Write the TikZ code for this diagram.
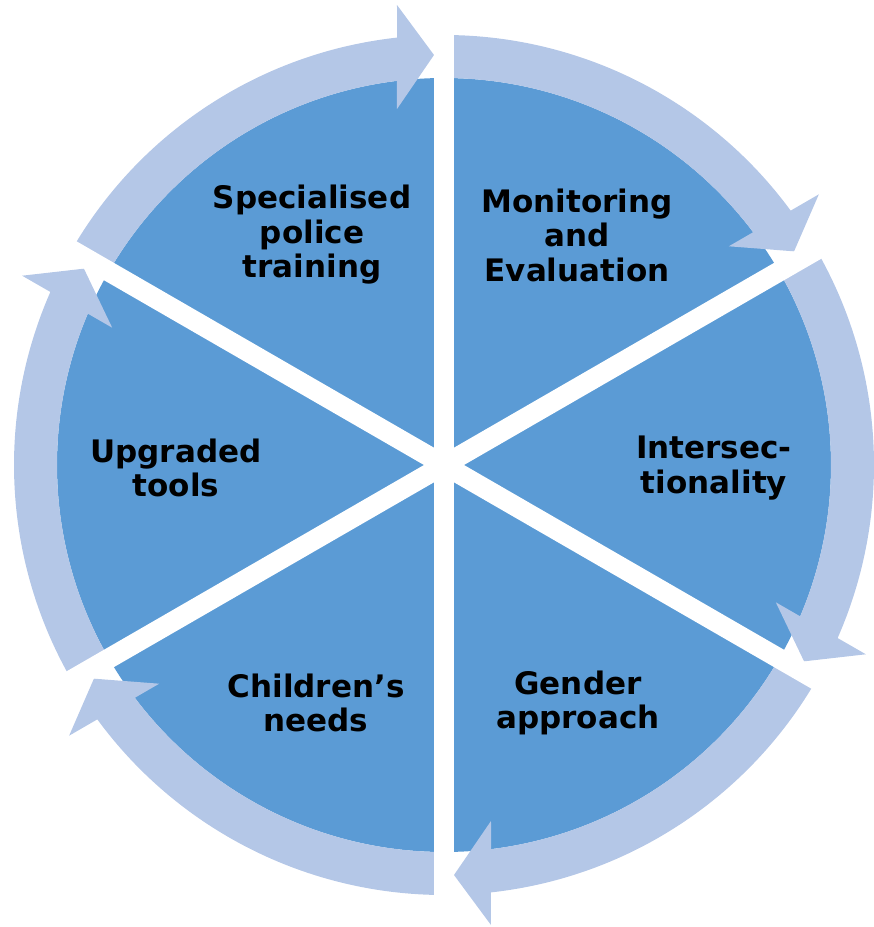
\documentclass[tikz,border=0pt]{standalone}
\usepackage{fontspec}
\setmainfont{DejaVu Sans}
\definecolor{segdark}{RGB}{91,155,213}
\definecolor{seglight}{RGB}{180,199,231}
\tikzset{
  sector/.style={fill=segdark},
  band/.style={fill=seglight},
  gapbar/.style={draw=white, line width=20pt},
  seglabel/.style={align=center, text=black, inner sep=0pt,
    font=\fontsize{31}{34.5}\selectfont\bfseries}
}
\begin{document}
\begin{tikzpicture}[x=1pt,y=1pt]
\useasboundingbox (-444,-462) rectangle (430,465);
\coordinate (c) at (0,0);
\foreach \a in {150,90,30,-30,-90,-150}{
  \pgfmathsetmacro{\rot}{\a-150}
  \begin{scope}[rotate=\rot]
    \fill[sector] (c) -- (90:387) arc[start angle=90,end angle=150,radius=387] -- cycle;
    \fill[band] (150:387) -- (150:430) arc[start angle=150,end angle=96.27,radius=430]
      -- (-47,460) -- (-10,410) -- (-47,356) -- (96.98:387)
      arc[start angle=96.98,end angle=150,radius=387] -- cycle;
  \end{scope}
}
\draw[gapbar] (90:480) -- (-90:480);
\draw[gapbar] (30:480) -- (210:480);
\draw[gapbar] (150:480) -- (-30:480);
\node[seglabel] (spt) at (-132,230) {Specialised\\police\\training};
\node[seglabel] (mae) at (133,230) {Monitoring\\and\\Evaluation};
\node[seglabel] (ins) at (270,-3) {Intersec-\\tionality};
\node[seglabel] (gen) at (134,-238) {Gender\\approach};
\node[seglabel] (chn) at (-128,-238) {Children’s\\needs};
\node[seglabel] (upt) at (-268,-3) {Upgraded\\tools};
\end{tikzpicture}
\end{document}
